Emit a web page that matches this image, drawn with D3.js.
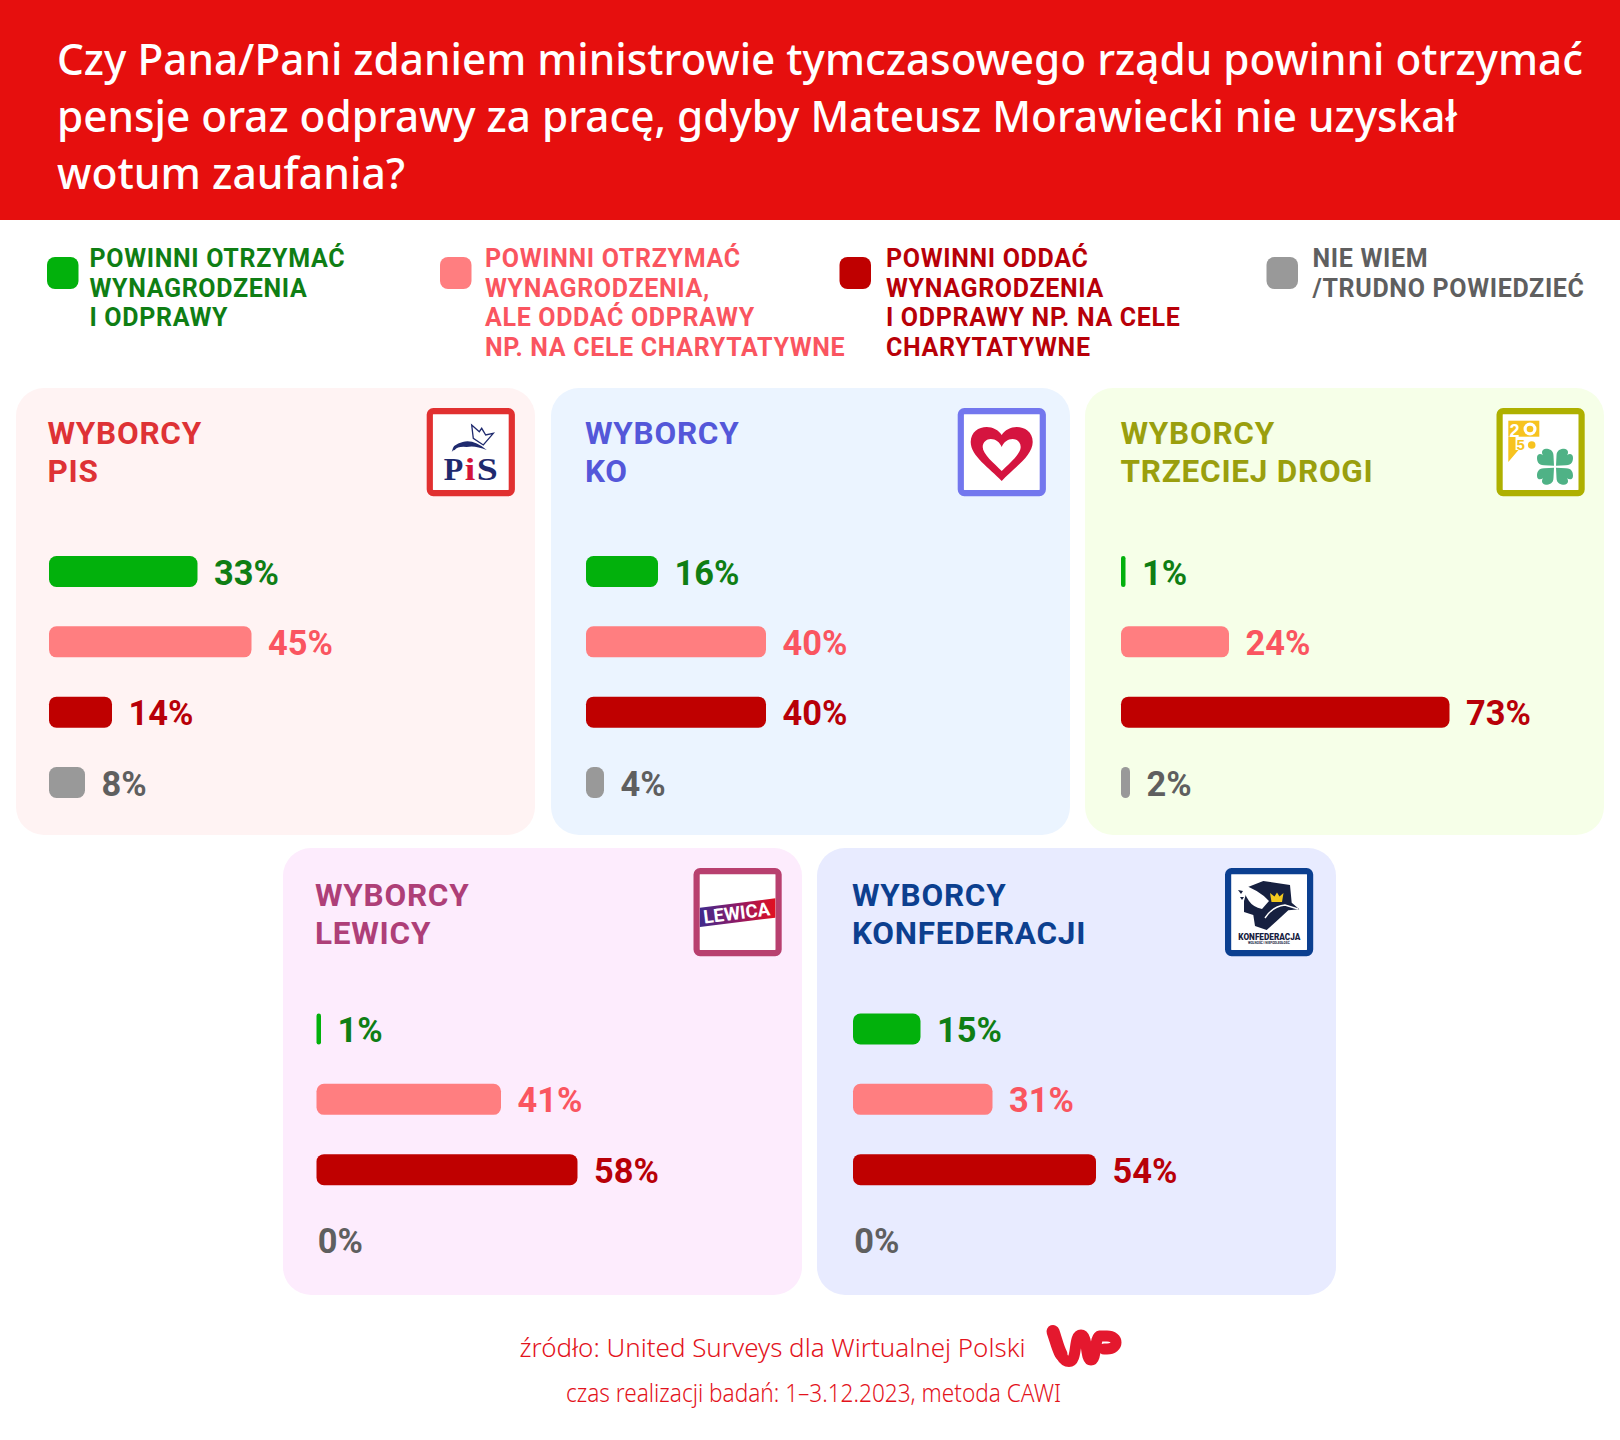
<!DOCTYPE html>
<html lang="pl"><head><meta charset="utf-8">
<script src="https://cdnjs.cloudflare.com/ajax/libs/d3/7.8.5/d3.min.js"></script>
<style>html,body{margin:0;padding:0;background:#fff}svg{display:block}</style></head>
<body><div id="chart"></div>
<script>
const titleLines = ["Czy Pana/Pani zdaniem ministrowie tymczasowego rządu powinni otrzymać",
  "pensje oraz odprawy za pracę, gdyby Mateusz Morawiecki nie uzyskał","wotum zaufania?"];
const seriesKeys = ["full","salary","none","dk"];
const seriesBar = ["#02b10c","#ff7e80","#bf0000","#999999"];
const seriesText = ["#0f7e14","#fa5560","#b80008","#5f5f5f"];
const legendLabels = [
  ["POWINNI OTRZYMAĆ","WYNAGRODZENIA","I ODPRAWY"],
  ["POWINNI OTRZYMAĆ","WYNAGRODZENIA,","ALE ODDAĆ ODPRAWY","NP. NA CELE CHARYTATYWNE"],
  ["POWINNI ODDAĆ","WYNAGRODZENIA","I ODPRAWY NP. NA CELE","CHARYTATYWNE"],
  ["NIE WIEM","/TRUDNO POWIEDZIEĆ"]];
const groups = [["WYBORCY","PIS"],["WYBORCY","KO"],["WYBORCY","TRZECIEJ DROGI"],["WYBORCY","LEWICY"],["WYBORCY","KONFEDERACJI"]];
const valuesPis = [33,45,14,8];
const valuesKo = [16,40,40,4];
const valuesTd = [1,24,73,2];
const valuesLewica = [1,41,58,0];
const valuesKonf = [15,31,54,0];
const allValues = [valuesPis,valuesKo,valuesTd,valuesLewica,valuesKonf];
const panelFill = ["#fff3f3","#ebf4ff","#f6ffe8","#fdecfd","#e8ebff"];
const headColor = ["#de3235","#5457d9","#9a9f0e","#ae3f78","#0c3f8f"];
const logoColor = ["#e13030","#7377ee","#aeb000","#b8406f","#0b3f90"];
const source = "źródło: United Surveys dla Wirtualnej Polski";
const method = "czas realizacji badań: 1–3.12.2023, metoda CAWI";

// layout (kept apart from the data)
const legendX = [47,440,839.5,1266.5], legendDx=[42.5,45,46.5,46];
const panelX = [16,551,1085,283,817], panelY = [388,388,388,848,848];
const barX = [49,586,1121,316.5,853], headX = [47.5,585,1120.5,315,852];
const logoX = [426.7,957.7,1496.5,693.5,1225];
const titleW=[1526,1400,348];

const svg = d3.select("#chart").append("svg").attr("width",1620).attr("height",1440);
const FONT = "Roboto, sans-serif", TF = "'Noto Sans', sans-serif";
svg.append("rect").attr("width",1620).attr("height",1440).attr("fill","#fff");
svg.append("rect").attr("width",1620).attr("height",220).attr("fill","#e60f0e");
svg.selectAll(".t").data(titleLines).join("text").attr("class","t")
  .attr("x",57).attr("y",(d,i)=>75+i*57).attr("font-family",TF).attr("font-size",43).attr("font-weight",500)
  .attr("fill","#fff").attr("textLength",(d,i)=>titleW[i]).attr("lengthAdjust","spacingAndGlyphs").text(d=>d);

// legend
const lg = svg.append("g").selectAll("g").data(legendLabels).join("g").attr("transform",(d,i)=>`translate(${legendX[i]},0)`);
lg.append("rect").attr("y",257).attr("width",31.5).attr("height",32).attr("rx",8).attr("fill",(d,i)=>seriesBar[i]);
lg.each(function(lines,i){
  d3.select(this).selectAll("text").data(lines).join("text").attr("x",legendDx[i]).attr("y",(d,j)=>266.6+j*29.9)
   .attr("font-family",FONT).attr("font-weight",700).attr("font-size",25).attr("letter-spacing",0.67)
   .attr("fill",seriesText[i]).text(d=>d);
});

function drawPis(g){
  const navy="#1f2a6e", serif="'Liberation Serif',serif";
  g.append("path").attr("d","M45,17 L52.6,23.7 L55,20.3 L59,27 L66.6,25.3 L56.6,37 L46.6,30.3Z").attr("fill","none").attr("stroke",navy).attr("stroke-width",1.3);
  g.append("path").attr("d","M25,44 Q26,36 36,34 Q47,31 60,42 Q48,37 40,39 Q31,38 28,42 Q26,42 25,44Z").attr("fill",navy);
  g.selectAll(".l").data([["P",17,19.5,navy],["i",38,10.5,"#d4143a"],["S",50,21,navy]]).join("text").attr("class","l")
    .attr("x",d=>d[1]).attr("y",72).attr("font-size",32).attr("textLength",d=>d[2]).attr("lengthAdjust","spacingAndGlyphs")
    .attr("fill",d=>d[3]).attr("font-family",serif).attr("font-weight",700).text(d=>d[0]);
}
function drawKo(g){
  g.append("path").attr("fill-rule","evenodd").attr("fill","#d5143f").attr("d",
   "M44,73 C32,60 13,48 13,34 C13,24 21,19 29,19 C35,19 41,22 44,27 C47,22 53,19 59,19 C67,19 75,24 75,34 C75,48 56,60 44,73Z "+
   "M44,63 C36,55 25,46 25,39 C25,34 29,31 33,31 C38,31 42,34 44,39 C46,34 50,31 55,31 C59,31 63,34 63,39 C63,46 52,55 44,63Z");
}
function drawTd(g){
  const y="#f7c31f";
  g.append("rect").attr("x",11.8).attr("y",12.7).attr("width",31).attr("height",16).attr("fill",y);
  g.append("path").attr("fill",y).attr("d","M11.8,29 L19,29 L19,42 L22,42 L11.8,54Z");
  g.append("text").attr("x",13).attr("y",28.5).attr("font-size",18).attr("font-weight",700).attr("font-family","'Liberation Sans',sans-serif").attr("fill","#fff").text("2");
  g.append("circle").attr("cx",33.5).attr("cy",21).attr("r",6.5).attr("fill","#fff");
  g.append("circle").attr("cx",33.5).attr("cy",21).attr("r",3.3).attr("fill",y);
  g.append("text").attr("x",20).attr("y",42).attr("font-size",15).attr("font-weight",700).attr("font-family","'Liberation Sans',sans-serif").attr("fill",y).text("5");
  g.append("circle").attr("cx",35.2).attr("cy",37).attr("r",3.8).attr("fill",y);
  const cl=g.append("g").attr("transform","translate(58.5,58.7)");
  [[1,1],[-1,1],[1,-1],[-1,-1]].forEach(s=>{
    cl.append("path").attr("fill","#4fb286").attr("transform",`scale(${s[0]},${s[1]})`)
      .attr("d","M-1,-1 L-1.5,-11 C-1.5,-17 -6,-18 -9,-18 C-13,-18 -14,-14 -12,-11.5 C-14.5,-13.5 -18,-13 -18,-9 C-18,-6 -17,-1.5 -11,-1.5 Z");
  });
}
function drawLewica(g){
  const lgr=g.append("defs").append("linearGradient").attr("id","lewgrad");
  lgr.append("stop").attr("offset","0").attr("stop-color","#3f2a8c");
  lgr.append("stop").attr("offset","0.5").attr("stop-color","#8f1a66");
  lgr.append("stop").attr("offset","1").attr("stop-color","#e2101f");
  g.append("path").attr("fill","url(#lewgrad)").attr("d","M6.4,39.7 L81.8,30.3 L81.8,49.7 L6.4,58.9Z");
  g.append("text").attr("transform","rotate(-7 44.2 51.3)").attr("x",10.5).attr("y",51.3).attr("textLength",67).attr("lengthAdjust","spacingAndGlyphs")
   .attr("font-family",FONT).attr("font-weight",700).attr("font-size",18.5).attr("fill","#fff").text("LEWICA");
}
function drawKonf(g){
  const d="#162040";
  g.append("path").attr("fill",d).attr("d","M23,19 L38.3,13 L65,17 L66.7,34.7 L74.3,41.3 L63.3,42.3 L51.7,53 L41.7,62 L30,58 L28.3,47 L19,44 L19,33Z");
  g.append("path").attr("fill","#fff").attr("d","M16.7,16.3 Q34,22 44,33 L37,41 Q28,39 24,33 Q19,26 16.7,16.3Z");
  g.append("path").attr("fill",d).attr("d","M13,22 L18,23 L16,26Z M15,29 L19,29 L17,32Z");
  g.append("path").attr("fill","#f3c91f").attr("d","M46.5,34 L45,25 L49.5,28.5 L52,24.5 L54.5,28.5 L58.5,25 L57,34Z");
  g.append("path").attr("fill","none").attr("stroke","#fff").attr("stroke-width",1.4).attr("d","M40,50 Q48,38 60,37 L73,41");
  g.append("text").attr("x",13.3).attr("y",72.3).attr("textLength",62).attr("lengthAdjust","spacingAndGlyphs").attr("font-family",FONT).attr("font-weight",900).attr("font-size",8.6).attr("fill",d).text("KONFEDERACJA");
  g.append("text").attr("x",23).attr("y",76).attr("textLength",41.7).attr("lengthAdjust","spacingAndGlyphs").attr("font-family",FONT).attr("font-weight",700).attr("font-size",3).attr("fill",d).text("WOLNOŚĆ I NIEPODLEGŁOŚĆ");
}
const drawLogo=[drawPis,drawKo,drawTd,drawLewica,drawKonf];

// scales
const xScale = d3.scaleLinear().domain([0,100]).range([0,450]);
const yScale = d3.scalePoint().domain(seriesKeys).range([168,379]);

const panels = svg.selectAll(".p").data(groups).join("g").attr("class","p")
  .attr("transform",(d,i)=>`translate(${panelX[i]},${panelY[i]})`);
panels.append("rect").attr("width",519).attr("height",447).attr("rx",28).attr("fill",(d,i)=>panelFill[i]);
panels.each(function(lines,i){
  const g=d3.select(this), bx=barX[i]-panelX[i], vals=allValues[i], rowShift=i>2?-2.5:0, headShift=i>2?2:0;
  g.selectAll(".h").data(lines).join("text").attr("class","h").attr("x",headX[i]-panelX[i]).attr("y",(d,j)=>56+headShift+j*37.5)
    .attr("font-family",FONT).attr("font-weight",700).attr("font-size",31.5).attr("letter-spacing",0.75).attr("fill",headColor[i]).text(d=>d);
  const rows=g.selectAll(".r").data(vals).join("g").attr("class","r")
    .attr("transform",(d,j)=>`translate(${bx},${yScale(seriesKeys[j])+rowShift})`);
  rows.each(function(d,j){
    const r=d3.select(this);
    if(d>0) r.append("rect").attr("height",31).attr("width",xScale(d)).attr("rx",Math.min(7.5,xScale(d)/2)).attr("fill",seriesBar[j]);
    r.append("text").attr("x",xScale(d)+(d>0?16.5:1.2)).attr("y",28.5)
      .attr("font-family",FONT).attr("font-weight",700).attr("font-size",34.4).attr("fill",seriesText[j]).text(d+"%");
  });
  const logo=g.append("g").attr("class","logo").attr("transform",`translate(${logoX[i]-panelX[i]},20)`);
  logo.append("rect").attr("x",3.1).attr("y",3.1).attr("width",82).attr("height",82).attr("rx",3.5).attr("fill","#fff").attr("stroke",logoColor[i]).attr("stroke-width",6.2);
  drawLogo[i](logo);
});

// footer
svg.selectAll(".f").data([[source,519.5,1356.5,506],[method,566,1401.5,495]]).join("text").attr("class","f")
  .attr("x",d=>d[1]).attr("y",d=>d[2]).attr("textLength",d=>d[3]).attr("lengthAdjust","spacingAndGlyphs")
  .attr("font-family","'Noto Sans',sans-serif").attr("font-weight",300).attr("font-size",25).attr("fill","#e3131c").text(d=>d[0]);
svg.append("path").attr("fill","none").attr("stroke","#e4182e").attr("stroke-width",11).attr("stroke-linejoin","round").attr("stroke-linecap","round")
  .attr("d","M1053,1332 C1058,1345 1060,1361.5 1069,1361.5 C1078,1361.5 1073,1335 1081,1335 C1088,1335 1085,1360 1091,1360 C1097,1360 1094,1337 1100,1336 L1107,1336 C1119,1336 1119,1349 1107,1349 L1104,1349");
svg.append("path").attr("fill","none").attr("stroke","#e4182e").attr("stroke-width",13).attr("stroke-linecap","round")
  .attr("d","M1053,1331.5 C1056,1340 1058,1349 1061,1354");
</script>
</body></html>
